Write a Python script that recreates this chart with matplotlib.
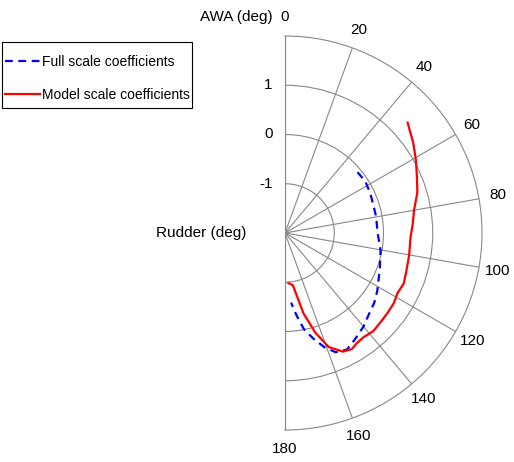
import matplotlib.pyplot as plt
import numpy as np
from matplotlib.patches import Rectangle

plt.rcParams['font.family'] = ['Liberation Sans', 'DejaVu Sans']

# AWA (deg) vs rudder (deg)
full_awa = [50, 57, 65, 73, 80, 90, 100, 110, 117, 122, 128, 134, 140, 147, 152, 157, 161, 165, 169, 172, 175]
full_rudder = [-0.08, -0.06, -0.09, -0.12, -0.12, -0.12, -0.03, 0.05, 0.13, 0.21, 0.30, 0.37, 0.48, 0.59, 0.68,
               0.63, 0.45, 0.22, -0.02, -0.31, -0.58]

model_awa = [48, 55, 61, 67, 73, 80, 86, 92, 100, 107, 113, 118, 123, 128, 132, 138, 143, 147, 150, 154, 159,
             163, 167, 171.5, 176]
model_rudder = [1.35, 1.18, 1.04, 0.91, 0.81, 0.66, 0.60, 0.55, 0.56, 0.58, 0.62, 0.59, 0.63, 0.64, 0.65, 0.68,
                0.65, 0.67, 0.72, 0.68, 0.48, 0.12, -0.32, -0.93, -0.98]

theta_ticks = list(range(0, 181, 20))
r_ticks = [-1, 0, 1]
r_min, r_max = -2, 2

W, H = 514, 462
cx, cy, R = 285, 233, 197   # centre and rim radius in pixels (from top-left)
fs = 11

fig = plt.figure(figsize=(W / 100, H / 100), dpi=100)
# square axes; the half-disc wedge gets centred inside it
ax = fig.add_axes([(cx - R / 2) / W, (H - cy - R) / H, 2 * R / W, 2 * R / H], projection='polar')
ax.set_theta_zero_location('N')
ax.set_theta_direction(-1)
ax.set_thetalim(0, np.pi)
ax.set_ylim(r_min, r_max)

grid_col = '#888888'
ax.set_xticks(np.radians(theta_ticks))
ax.set_yticks(r_ticks)
ax.set_xticklabels([])
ax.set_yticklabels([])
ax.grid(True, color=grid_col, linewidth=0.8)
for s in ax.spines.values():
    s.set_color(grid_col)
    s.set_linewidth(0.8)

l1, = ax.plot(np.radians(full_awa), full_rudder, color='blue', lw=1.6, linestyle=(0, (3.5, 2.5)),
              label='Full scale coefficients')
l2, = ax.plot(np.radians(model_awa), model_rudder, color='red', lw=1.6, label='Model scale coefficients')

# theta labels outside the rim
for t in theta_ticks:
    ax.text(np.radians(t), r_max + 0.39, str(t), ha='center', va='center', fontsize=fs, clip_on=False)

# radial labels left of the 0 spoke
for r in r_ticks:
    ax.annotate(str(r), xy=(0, r), xytext=(-9, 0), textcoords='offset points', ha='right', va='center',
                fontsize=fs, annotation_clip=False)

ax.annotate('AWA (deg)', xy=(0, r_max + 0.39), xytext=(-9, 0), textcoords='offset points', ha='right',
            va='center', fontsize=fs, annotation_clip=False)
ax.annotate('Rudder (deg)', xy=(0, r_min), xytext=(-28, 0), textcoords='offset points', ha='right',
            va='center', fontsize=fs, annotation_clip=False)

# legend entries without frame, box drawn separately (MATLAB-like padding)
leg = fig.legend(handles=[l1, l2], loc='upper left', bbox_to_anchor=(5 / W, 1 - 55 / H), frameon=False,
                 fontsize=10, handlelength=2.5, handletextpad=0.15, borderpad=0, borderaxespad=0,
                 labelspacing=1.35)
fig.patches.append(Rectangle((2 / W, 1 - 108 / H), 190 / W, 66 / H, transform=fig.transFigure,
                             facecolor='none', edgecolor='black', linewidth=0.8))

plt.savefig('out.png', dpi=100)
